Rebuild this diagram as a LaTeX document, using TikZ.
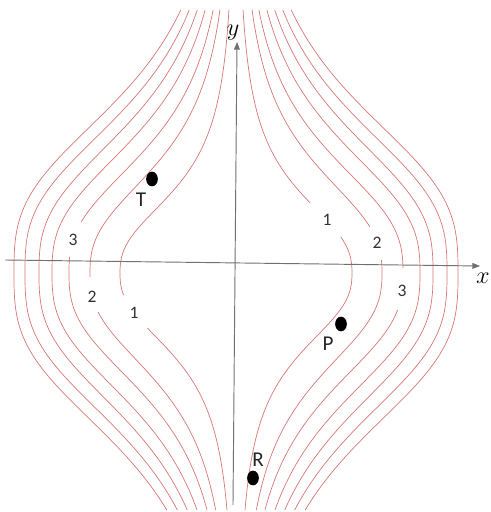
\documentclass[tikz,border=0pt]{standalone}
\usepackage{fontspec}
\newfontfamily\labfont{Carlito}
\usetikzlibrary{arrows.meta, shapes.geometric}

\definecolor{contour}{RGB}{214,118,118}
\definecolor{axisgray}{RGB}{112,112,112}

\begin{document}
\begin{tikzpicture}[x=0.3mm,y=0.3mm,>={Triangle[length=6.5pt,width=5pt]},
  declare function={bump(\t,\P,\w,\q)=\P/(1+((abs(\t+11)+0.01)/\w)^\q);},
  level/.style={contour,line width=0.6pt},
  axis/.style={axisgray,line width=0.8pt,->},
  axlabel/.style={inner sep=0pt,font=\fontsize{21}{21}\selectfont},
  num/.style={inner sep=0pt,text=black!80,font=\labfont\fontsize{15}{15}\selectfont},
  ptlabel/.style={inner sep=0pt,text=black!85,font=\labfont\fontsize{18}{18}\selectfont},
  dot/.style={ellipse,fill=black,inner sep=0pt,minimum width=10pt,minimum height=12.5pt}]
  \useasboundingbox (-236,-250) rectangle (255,262);
  % level lines broken where a number sits: P/w/q/right gap/left gap
  \foreach \P/\w/\q/\rlo/\rhi/\llo/\lhi in {116/88/2.5/25/59/-66/-33,
      146/117/2.58/2/35/-50/-15, 167/132/2.67/-48/-6/5/40}{
    \draw[level] plot[domain=-248:\rlo,samples=70,variable=\t] ({bump(\t,\P,\w,\q)},\t);
    \draw[level] plot[domain=\rhi:252,samples=70,variable=\t] ({bump(\t,\P,\w,\q)},\t);
    \draw[level] plot[domain=-248:\llo,samples=70,variable=\t] ({-bump(\t,\P,\w,\q)},\t);
    \draw[level] plot[domain=\lhi:252,samples=70,variable=\t] ({-bump(\t,\P,\w,\q)},\t);
  }
  % outer level lines
  \foreach \P/\w/\q in {184/147/2.75, 197/160/2.83, 211/171/2.92, 222/182/3}{
    \draw[level] plot[domain=-248:252,samples=120,variable=\t] ({bump(\t,\P,\w,\q)},\t);
    \draw[level] plot[domain=-248:252,samples=120,variable=\t] ({-bump(\t,\P,\w,\q)},\t);
  }
  % axes
  \coordinate (xs) at (-231,2);
  \coordinate (xe) at (244,-4);
  \coordinate (ys) at (-3,-243);
  \coordinate (ye) at (1,220);
  \draw[axis] (xs) -- (xe);
  \draw[axis] (ys) -- (ye);
  \node[axlabel] (xlab) at (247,-16) {$x$};
  \node[axlabel] (ylab) at (-3,229) {$y$};
  % level numbers
  \node[num] (r1) at (91,42) {1};
  \node[num] (r2) at (141,19) {2};
  \node[num] (r3) at (166,-29) {3};
  \node[num] (l3) at (-163,22) {3};
  \node[num] (l2) at (-144,-35) {2};
  \node[num] (l1) at (-102,-51) {1};
  % points
  \node[dot] (ptT) at (-84,83) {};
  \node[dot] (ptP) at (105,-62) {};
  \node[dot] (ptR) at (17,-216) {};
  \node[ptlabel] (labT) at (-95,62) {T};
  \node[ptlabel] (labP) at (92,-82) {P};
  \node[ptlabel] (labR) at (22,-198) {R};
\end{tikzpicture}
\end{document}
